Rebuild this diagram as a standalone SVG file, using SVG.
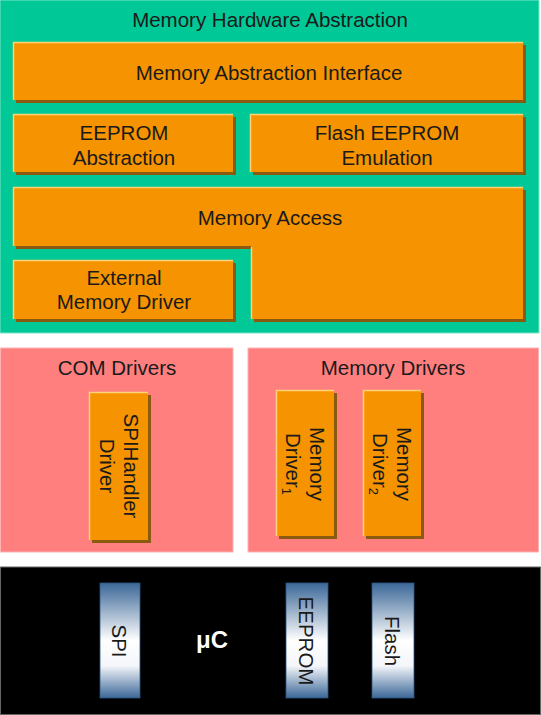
<svg xmlns="http://www.w3.org/2000/svg" width="541" height="715" viewBox="0 0 541 715">
<defs>
<linearGradient id="bar" x1="0" y1="0" x2="0" y2="1">
<stop offset="0" stop-color="#3b6797"/>
<stop offset="0.5" stop-color="#ffffff"/>
<stop offset="0.72" stop-color="#f4f6fa"/>
<stop offset="1" stop-color="#3b6797"/>
</linearGradient>
</defs>
<style>
.t{font-family:"Liberation Sans",Arial,sans-serif;font-size:20.5px;fill:#1a1a1a;text-anchor:middle}
.box{fill:#f59300}
.sh{fill:#8a5a10}
.hl{fill:none;stroke:#ffd27a;stroke-width:1.5}
.pink{fill:#ff7f7f;stroke:#ffb3b3;stroke-width:1}
.bar{fill:url(#bar);stroke:#2e5684;stroke-width:0.8}
</style>
<rect width="541" height="715" fill="#ffffff"/>

<g id="memory-hardware-abstraction">
<rect x="0" y="0" width="539" height="333" fill="#00c896" stroke="#7fe3c9" stroke-width="1"/>
<text class="t" x="270" y="27" fill="#102a2a">Memory Hardware Abstraction</text>
</g>

<g id="memory-abstraction-interface">
<rect class="sh" x="16" y="45" width="510" height="58"/>
<rect class="box" x="13" y="42" width="510" height="58"/>
<polyline class="hl" points="13.5,100 13.5,42.5 523,42.5"/>
<text class="t" x="269" y="80">Memory Abstraction Interface</text>
</g>

<g id="eeprom-abstraction">
<rect class="sh" x="16" y="117" width="220" height="58"/>
<rect class="box" x="13" y="114" width="220" height="58"/>
<polyline class="hl" points="13.5,172 13.5,114.5 233,114.5"/>
<text class="t" x="124" y="140">EEPROM</text>
<text class="t" x="124" y="165">Abstraction</text>
</g>

<g id="flash-eeprom-emulation">
<rect class="sh" x="253" y="117" width="273" height="58"/>
<rect class="box" x="250" y="114" width="273" height="58"/>
<polyline class="hl" points="250.5,172 250.5,114.5 523,114.5"/>
<text class="t" x="387" y="140">Flash EEPROM</text>
<text class="t" x="387" y="165">Emulation</text>
</g>

<g id="memory-access">
<polygon class="sh" points="16,190 526,190 526,322 254,322 254,249 16,249"/>
<polygon class="box" points="13,187 523,187 523,319 251,319 251,246 13,246"/>
<polyline class="hl" points="13.5,246 13.5,187.5 523,187.5"/>
<polyline class="hl" points="251.5,247 251.5,319"/>
<text class="t" x="270" y="225">Memory Access</text>
</g>

<g id="external-memory-driver">
<rect class="sh" x="16" y="263" width="220" height="59"/>
<rect class="box" x="13" y="260" width="220" height="59"/>
<polyline class="hl" points="13.5,319 13.5,260.5 233,260.5"/>
<text class="t" x="124" y="285">External</text>
<text class="t" x="124" y="309">Memory Driver</text>
</g>

<g id="com-drivers">
<rect class="pink" x="0.5" y="348" width="232.5" height="204"/>
<text class="t" x="117" y="375">COM Drivers</text>
</g>

<g id="memory-drivers">
<rect class="pink" x="248" y="348" width="290.5" height="204"/>
<text class="t" x="393" y="375">Memory Drivers</text>
</g>

<g id="spihandler-driver">
<rect class="sh" x="92" y="395" width="59" height="148"/>
<rect class="box" x="89" y="392" width="59" height="148"/>
<polyline class="hl" points="89.5,540 89.5,392.5 148,392.5"/>
<text class="t" transform="translate(130.5,466) rotate(90)" y="7">SPIHandler</text>
<text class="t" transform="translate(106.5,466) rotate(90)" y="7">Driver</text>
</g>

<g id="memory-driver-1">
<rect class="sh" x="279" y="393" width="58" height="146"/>
<rect class="box" x="276" y="390" width="58" height="146"/>
<polyline class="hl" points="276.5,536 276.5,390.5 334,390.5"/>
<text class="t" transform="translate(317,464) rotate(90)" y="7">Memory</text>
<text class="t" transform="translate(293,464) rotate(90)" y="7">Driver<tspan font-size="13" dy="4">1</tspan></text>
</g>

<g id="memory-driver-2">
<rect class="sh" x="366" y="393" width="58" height="146"/>
<rect class="box" x="363" y="390" width="58" height="146"/>
<polyline class="hl" points="363.5,536 363.5,390.5 421,390.5"/>
<text class="t" transform="translate(404,464) rotate(90)" y="7">Memory</text>
<text class="t" transform="translate(380,464) rotate(90)" y="7">Driver<tspan font-size="13" dy="4">2</tspan></text>
</g>

<g id="microcontroller">
<rect x="0.5" y="567" width="540" height="147.5" fill="#000000" stroke="#666666" stroke-width="1"/>
<text x="212" y="648" font-family="'Liberation Sans',Arial,sans-serif" font-size="24" font-weight="bold" fill="#ffffff" text-anchor="middle">μC</text>
</g>

<g id="spi">
<rect class="bar" x="100" y="583" width="40" height="115"/>
<text class="t" transform="translate(119,641) rotate(90)" y="7">SPI</text>
</g>

<g id="eeprom">
<rect class="bar" x="286" y="583" width="42" height="115"/>
<text class="t" transform="translate(306,641) rotate(90)" y="7">EEPROM</text>
</g>

<g id="flash">
<rect class="bar" x="372" y="583" width="42" height="115"/>
<text class="t" transform="translate(392,641) rotate(90)" y="7">Flash</text>
</g>

<g id="connectors"></g>
</svg>
